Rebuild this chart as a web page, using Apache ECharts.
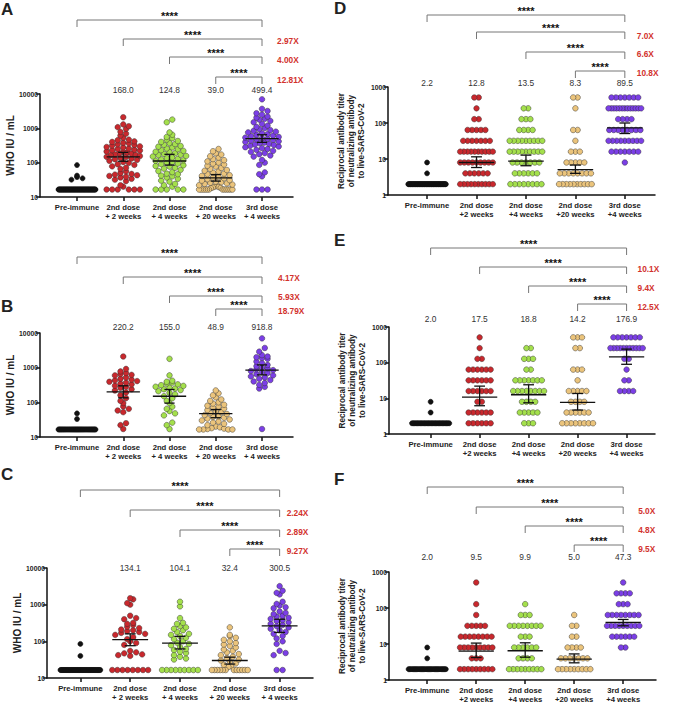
<!DOCTYPE html>
<html>
<head>
<meta charset="utf-8">
<script src="https://cdn.jsdelivr.net/npm/echarts@6/dist/echarts.min.js"></script>
<style>
html, body { margin: 0; padding: 0; background: #fff; }
#chart { width: 696px; height: 708px; }
</style>
</head>
<body>
<div id="chart"></div>
<script>
const FONT = 'Liberation Sans, Arial, Helvetica, sans-serif';

const catsIU = ['Pre-immune', '2nd dose\n+ 2 weeks', '2nd dose\n+ 4 weeks', '2nd dose\n+ 20 weeks', '3rd dose\n+ 4 weeks'];
const catsLive = ['Pre-immune', '2nd dose\n+2 weeks', '2nd dose\n+4 weeks', '2nd dose\n+20 weeks', '3rd dose\n+4 weeks'];
const colors = ['#111111', '#c9282d', '#a4e04c', '#ebc47c', '#7b3fe6'];

// WHO IU/mL panels: values above the detection limit + number of points at the limit
const lodIU = 16.5;

const A_pre = [85, 42, 38, 35, 32];
const A_w2 = [2100, 1300, 1150, 1080, 960, 790, 700, 615, 530, 470, 452, 418, 402, 380, 365, 342, 328, 315, 298, 286, 277, 260, 252, 238, 230, 226, 212, 204, 198, 188, 183, 174, 168, 165, 156, 148, 146, 138, 132, 126, 121, 113, 104, 99, 90, 86, 78, 71, 66, 56, 50, 47, 45, 43, 41, 39, 37, 34, 32, 29, 22, 20];
const A_w4 = [1800, 1500, 760, 650, 560, 515, 470, 428, 402, 372, 348, 332, 306, 292, 278, 258, 246, 232, 221, 208, 202, 188, 181, 170, 166, 157, 151, 142, 137, 128, 125, 117, 113, 105, 101, 94, 91, 84, 80, 77, 71, 67, 62, 57, 53, 48, 46, 42, 40, 37, 34, 30, 28, 24, 22, 20];
const A_w20 = [250, 215, 188, 172, 154, 141, 127, 118, 109, 101, 94, 88, 81, 77, 70, 66, 61, 58, 55, 51, 48, 46, 43, 41, 39, 37, 35, 33, 31, 30, 28, 27, 26, 25, 24, 23, 22, 21, 20, 19.5, 19, 18.5, 18];
const A_3rd = [7000, 3700, 3200, 2750, 2500, 2200, 2050, 1900, 1800, 1650, 1500, 1350, 1200, 1100, 1010, 950, 890, 850, 800, 760, 715, 680, 650, 615, 590, 562, 538, 520, 498, 478, 462, 440, 418, 402, 384, 370, 352, 338, 326, 309, 296, 282, 264, 250, 236, 221, 206, 190, 176, 162, 150, 120, 100, 86, 52, 46, 40];
const A_lod = [70, 6, 5, 12, 3];
const A_gmt = ['', '168.0', '124.8', '39.0', '499.4'];
const A_mean = [null, 147, 112, 36, 500];
const A_lo = [null, 110, 85, 29, 390];
const A_hi = [null, 200, 175, 45, 650];
const A_fold = ['2.97X', '4.00X', '12.81X'];

const B_pre = [48, 33];
const B_w2 = [2100, 920, 780, 700, 660, 620, 598, 520, 480, 452, 430, 410, 392, 370, 348, 330, 302, 280, 262, 238, 220, 192, 160, 132, 110, 95, 76, 65, 58, 52, 25, 22, 17];
const B_w4 = [1800, 600, 420, 392, 372, 348, 330, 312, 298, 282, 265, 250, 238, 226, 210, 190, 170, 150, 131, 110, 95, 75, 65, 56, 48, 42, 26, 22, 17];
const B_w20 = [220, 182, 160, 140, 121, 110, 100, 92, 85, 80, 75, 70, 66, 60, 56, 52, 49, 46, 43, 40, 38, 36, 34, 32, 30, 28, 26, 24, 22, 20, 19, 18, 17.5, 17];
const B_3rd = [7000, 3700, 2900, 2300, 2100, 2000, 1900, 1800, 1500, 1350, 1200, 1100, 1000, 950, 900, 850, 800, 740, 700, 650, 600, 560, 520, 480, 440, 400, 360, 320, 280, 250, 17];
const B_lod = [40, 0, 0, 4, 0];
const B_gmt = ['', '220.2', '155.0', '48.9', '918.8'];
const B_mean = [null, 200, 150, 47, 850];
const B_lo = [null, 135, 95, 36, 620];
const B_hi = [null, 300, 235, 62, 1200];
const B_fold = ['4.17X', '5.93X', '18.79X'];

const C_pre = [85, 40];
const C_w2 = [1500, 1400, 1100, 1000, 500, 430, 400, 320, 300, 280, 250, 230, 210, 200, 190, 180, 170, 160, 150, 130, 115, 100, 90, 80, 55, 50, 47, 44, 42, 40];
const C_w4 = [1200, 900, 430, 320, 300, 260, 240, 220, 200, 180, 160, 150, 140, 125, 115, 100, 92, 85, 78, 70, 62, 58, 52, 48, 42, 38, 34, 32];
const C_w20 = [240, 150, 140, 125, 110, 100, 90, 82, 75, 68, 60, 55, 50, 45, 42, 38, 35, 32, 30, 28, 25, 23, 21, 20];
const C_3rd = [3200, 2400, 2100, 1900, 1200, 1050, 950, 850, 800, 650, 600, 550, 500, 470, 440, 410, 380, 360, 330, 300, 280, 260, 240, 220, 200, 180, 160, 140, 120, 100, 85, 55, 48, 42];
const C_lod = [45, 8, 9, 12, 2];
const C_gmt = ['', '134.1', '104.1', '32.4', '300.5'];
const C_mean = [null, 111, 89, 30, 265];
const C_lo = [null, 76, 62, 24, 175];
const C_hi = [null, 160, 137, 37, 400];
const C_fold = ['2.24X', '2.89X', '9.27X'];

// live-virus titer panels: number of samples at each titer
const titers = [2, 4, 8, 16, 32, 64, 128, 256, 512];

const D_pre = [60, 1, 1, 0, 0, 0, 0, 0, 0];
const D_w2 = [10, 6, 9, 10, 7, 5, 2, 1, 2];
const D_w4 = [8, 6, 7, 9, 9, 4, 3, 2, 0];
const D_w20 = [10, 8, 5, 3, 1, 2, 0, 1, 2];
const D_3rd = [0, 0, 1, 7, 9, 8, 4, 13, 7];
const D_gmt = ['2.2', '12.8', '13.5', '8.3', '89.5'];
const D_mean = [null, 8, 8.7, 5.1, 73];
const D_lo = [null, 5.8, 6.5, 4, 51];
const D_hi = [null, 11.5, 12.8, 6.8, 100];
const D_fold = ['7.0X', '6.6X', '10.8X'];

const E_pre = [28, 1, 1, 0, 0, 0, 0, 0, 0];
const E_w2 = [6, 6, 2, 6, 6, 6, 2, 1, 1];
const E_w4 = [3, 5, 4, 8, 7, 2, 3, 2, 0];
const E_w20 = [8, 6, 4, 5, 1, 3, 0, 2, 3];
const E_3rd = [0, 0, 0, 4, 2, 1, 2, 11, 7];
const E_gmt = ['2.0', '17.5', '18.8', '14.2', '176.9'];
const E_mean = [null, 10.8, 12.6, 7.7, 145];
const E_lo = [null, 6.2, 7.5, 4.7, 90];
const E_hi = [null, 22, 24, 13.7, 240];
const E_fold = ['10.1X', '9.4X', '12.5X'];

const F_pre = [33, 1, 1, 0, 0, 0, 0, 0, 0];
const F_w2 = [9, 3, 9, 8, 5, 1, 1, 0, 1];
const F_w4 = [9, 4, 6, 3, 8, 3, 1, 0, 0];
const F_w20 = [9, 7, 4, 2, 2, 1, 0, 0, 0];
const F_3rd = [0, 0, 2, 6, 9, 8, 3, 4, 1];
const F_gmt = ['2.0', '9.5', '9.9', '5.0', '47.3'];
const F_mean = [null, 6.3, 6.5, 3.8, 40];
const F_lo = [null, 4.2, 4.3, 3.0, 32];
const F_hi = [null, 10.6, 10.8, 5.3, 48];
const F_fold = ['5.0X', '4.8X', '9.5X'];

function withLod(vals, n) {
    return vals.concat(new Array(n).fill(lodIU));
}
function fromCounts(counts) {
    let v = [];
    counts.forEach((n, i) => { for (let k = 0; k < n; k++) v.push(titers[i]); });
    return v;
}

// rows of dots spread sideways around the category, squeezed when a row is too wide
function swarm(values, cat, step, maxHalf, rowLog) {
    let rows = {};
    values.forEach(v => {
        let r = Math.round(Math.log10(v) / rowLog);
        (rows[r] = rows[r] || []).push(v);
    });
    let out = [];
    Object.keys(rows).forEach(r => {
        let list = rows[r].slice().sort((a, b) => b - a);
        let n = list.length;
        let s = step;
        if (n > 1 && (n - 1) * s / 2 > maxHalf) s = 2 * maxHalf / (n - 1);
        let slots = [];
        for (let j = 0; j < n; j++) slots.push(j - (n - 1) / 2);
        slots.sort((a, b) => Math.abs(a) - Math.abs(b) || b - a);
        list.forEach((v, k) => out.push([cat + slots[k] * s, v]));
    });
    return out;
}

const panels = [
    { letter: 'A', groups: [A_pre, A_w2, A_w4, A_w20, A_3rd].map((g, i) => withLod(g, A_lod[i])), gmt: A_gmt, mean: A_mean, lo: A_lo, hi: A_hi, fold: A_fold, cats: catsIU, live: false,
      L: { left: 40, top: 94, width: 253, height: 103, xMin: -0.8, xMax: 4.67, br: [74, 55, 37, 17], foldH: [53, 34, 14], gmtH: 4, foldDx: 15, letter: [1, 1] } },
    { letter: 'B', groups: [B_pre, B_w2, B_w4, B_w20, B_3rd].map((g, i) => withLod(g, B_lod[i])), gmt: B_gmt, mean: B_mean, lo: B_lo, hi: B_hi, fold: B_fold, cats: catsIU, live: false,
      L: { left: 40, top: 333, width: 253, height: 104, xMin: -0.8, xMax: 4.67, br: [76, 56, 37, 24], foldH: [55, 36, 22], gmtH: 6, foldDx: 16, letter: [1, 298] } },
    { letter: 'C', groups: [C_pre, C_w2, C_w4, C_w20, C_3rd].map((g, i) => withLod(g, C_lod[i])), gmt: C_gmt, mean: C_mean, lo: C_lo, hi: C_hi, fold: C_fold, cats: catsIU, live: false,
      L: { left: 47, top: 568, width: 266, height: 110, xMin: -0.67, xMax: 4.67, br: [78, 58, 38, 19], foldH: [55, 36, 17], gmtH: 0, foldDx: 7, letter: [1, 466] } },
    { letter: 'D', groups: [D_pre, D_w2, D_w4, D_w20, D_3rd].map(fromCounts), gmt: D_gmt, mean: D_mean, lo: D_lo, hi: D_hi, fold: D_fold, cats: catsLive, live: true,
      L: { left: 388, top: 87, width: 267, height: 108, xMin: -0.79, xMax: 4.61, br: [72, 55, 35, 16], foldH: [51, 33, 14], gmtH: 4, foldDx: 12, letter: [334, 0] } },
    { letter: 'E', groups: [E_pre, E_w2, E_w4, E_w20, E_3rd].map(fromCounts), gmt: E_gmt, mean: E_mean, lo: E_lo, hi: E_hi, fold: E_fold, cats: catsLive, live: true,
      L: { left: 389, top: 327, width: 266, height: 107, xMin: -0.85, xMax: 4.58, br: [79, 60, 41, 23], foldH: [58, 39, 20], gmtH: 8, foldDx: 11, letter: [334, 232] } },
    { letter: 'F', groups: [F_pre, F_w2, F_w4, F_w20, F_3rd].map(fromCounts), gmt: F_gmt, mean: F_mean, lo: F_lo, hi: F_hi, fold: F_fold, cats: catsLive, live: true,
      L: { left: 389, top: 572, width: 267, height: 108, xMin: -0.78, xMax: 4.67, br: [85, 65, 46, 27], foldH: [61, 42, 23], gmtH: 15, foldDx: 15, letter: [334, 471] } }
];

const axisLineStyle = { color: '#111', width: 1.5 };

let option = {
    animation: false,
    backgroundColor: '#fff',
    textStyle: { fontFamily: FONT },
    title: [], grid: [], xAxis: [], yAxis: [], series: []
};

panels.forEach((p, pi) => {
    const L = p.L;
    const g = pi * 2, gb = pi * 2 + 1;
    option.title.push({ text: p.letter, left: L.letter[0], top: L.letter[1], padding: 0,
        textStyle: { fontSize: 17, fontWeight: 'bold', color: '#222', fontFamily: FONT } });
    option.grid.push({ left: L.left, top: L.top, width: L.width, height: L.height, containLabel: false, outerBoundsMode: 'none' });
    option.grid.push({ left: L.left, top: L.top - 90, width: L.width, height: 90, containLabel: false, outerBoundsMode: 'none' });

    option.xAxis.push({
        type: 'value', gridIndex: g, min: L.xMin, max: L.xMax, position: 'bottom',
        axisLine: { show: true, onZero: false, lineStyle: axisLineStyle },
        axisTick: { show: true, customValues: [0, 1, 2, 3, 4], length: 4, lineStyle: axisLineStyle },
        axisLabel: { customValues: [0, 1, 2, 3, 4], formatter: v => p.cats[Math.round(v)],
            fontSize: 7.7, fontWeight: 'bold', color: '#222', lineHeight: 9, margin: 6, fontFamily: FONT },
        splitLine: { show: false }
    });
    option.xAxis.push({ type: 'value', gridIndex: gb, min: L.xMin, max: L.xMax, show: false });

    option.yAxis.push({
        type: 'log', logBase: 10, gridIndex: g,
        min: p.live ? 1 : 10, max: p.live ? 1000 : 10000,
        axisLine: { show: true, onZero: false, lineStyle: axisLineStyle },
        axisTick: { show: true, length: 4, lineStyle: axisLineStyle },
        axisLabel: { formatter: v => String(Math.round(v)), fontSize: 6.8, fontWeight: 'bold', color: '#222', margin: 2, fontFamily: FONT },
        splitLine: { show: false },
        minorTick: { show: false },
        name: p.live ? 'Reciprocal antibody titer\nof neutralizing antibody\nto live-SARS-CoV-2' : 'WHO IU / mL',
        nameLocation: 'middle',
        nameGap: p.live ? 20 : 22,
        nameTextStyle: p.live
            ? { fontSize: 8.2, fontWeight: 'bold', color: '#222', lineHeight: 10, fontFamily: FONT }
            : { fontSize: 10, fontWeight: 'bold', color: '#222', fontFamily: FONT }
    });
    option.yAxis.push({ type: 'value', gridIndex: gb, min: 0, max: 90, show: false });

    // dots
    p.groups.forEach((vals, i) => {
        option.series.push({
            type: 'scatter', xAxisIndex: g, yAxisIndex: g, silent: true,
            symbol: 'circle', symbolSize: i === 0 ? 5 : 5.6,
            data: p.live ? swarm(vals, i, 0.09, i === 0 ? 0.38 : 0.33, 0.15)
                         : swarm(vals, i, 0.12, i === 0 ? 0.4 : 0.36, 0.14),
            itemStyle: { color: colors[i], borderColor: i === 0 ? '#111' : 'rgba(45,45,45,0.75)', borderWidth: 0.6, opacity: 1 },
            z: 2
        });
    });

    // geometric mean with 95% CI
    let mdata = [];
    for (let i = 1; i < 5; i++) mdata.push([i, p.mean[i], p.lo[i], p.hi[i]]);
    option.series.push({
        type: 'custom', xAxisIndex: g, yAxisIndex: g, silent: true, z: 5,
        data: mdata,
        encode: { x: 0, y: [1, 2, 3] },
        renderItem: (params, api) => {
            const c = api.value(0), m = api.value(1), lo = api.value(2), hi = api.value(3);
            const a = api.coord([c - 0.36, m]), b = api.coord([c + 0.36, m]);
            const t = api.coord([c, hi]), u = api.coord([c, lo]);
            const capL = api.coord([c - 0.11, hi])[0], capR = api.coord([c + 0.11, hi])[0];
            const st = { stroke: '#111', lineWidth: 1.3 };
            return { type: 'group', children: [
                { type: 'line', shape: { x1: a[0], y1: a[1], x2: b[0], y2: b[1] }, style: st },
                { type: 'line', shape: { x1: t[0], y1: t[1], x2: u[0], y2: u[1] }, style: st },
                { type: 'line', shape: { x1: capL, y1: t[1], x2: capR, y2: t[1] }, style: st },
                { type: 'line', shape: { x1: capL, y1: u[1], x2: capR, y2: u[1] }, style: st }
            ] };
        }
    });

    // significance brackets
    option.series.push({
        type: 'custom', xAxisIndex: gb, yAxisIndex: gb, silent: true, clip: false,
        data: L.br.map((h, i) => [i, 4, h]),
        renderItem: (params, api) => {
            const x1 = api.value(0), x2 = api.value(1), h = api.value(2);
            const p1 = api.coord([x1, h - 7]), p2 = api.coord([x1, h]);
            const p3 = api.coord([x2, h]), p4 = api.coord([x2, h - 7]);
            const mid = api.coord([(x1 + x2) / 2, h]);
            return { type: 'group', children: [
                { type: 'polyline', shape: { points: [p1, p2, p3, p4] }, style: { fill: 'none', stroke: '#777', lineWidth: 1 } },
                { type: 'text', x: mid[0], y: mid[1] + 1.5,
                  style: { text: '****', fill: '#111', fontSize: 11, fontWeight: 'bold', fontFamily: FONT, align: 'center', verticalAlign: 'bottom' } }
            ] };
        }
    });

    // geometric mean values above the groups
    option.series.push({
        type: 'custom', xAxisIndex: gb, yAxisIndex: gb, silent: true, clip: false,
        data: p.gmt.map((s, i) => [i, L.gmtH]),
        renderItem: (params, api) => {
            const pt = api.coord([api.value(0), api.value(1)]);
            return { type: 'text', x: pt[0], y: pt[1],
                style: { text: p.gmt[params.dataIndex], fill: '#333', fontSize: 8.4, fontFamily: FONT, align: 'center', verticalAlign: 'middle' } };
        }
    });

    // fold changes
    option.series.push({
        type: 'custom', xAxisIndex: gb, yAxisIndex: gb, silent: true, clip: false,
        data: L.foldH.map(h => [4, h]),
        renderItem: (params, api) => {
            const pt = api.coord([api.value(0), api.value(1)]);
            return { type: 'text', x: pt[0] + L.foldDx, y: pt[1],
                style: { text: p.fold[params.dataIndex], fill: '#d2322d', fontSize: 8.3, fontWeight: 'bold', fontFamily: FONT, align: 'left', verticalAlign: 'middle' } };
        }
    });
});

const chart = echarts.init(document.getElementById('chart'), null, { renderer: 'svg' });
chart.setOption(option);
</script>
</body>
</html>
